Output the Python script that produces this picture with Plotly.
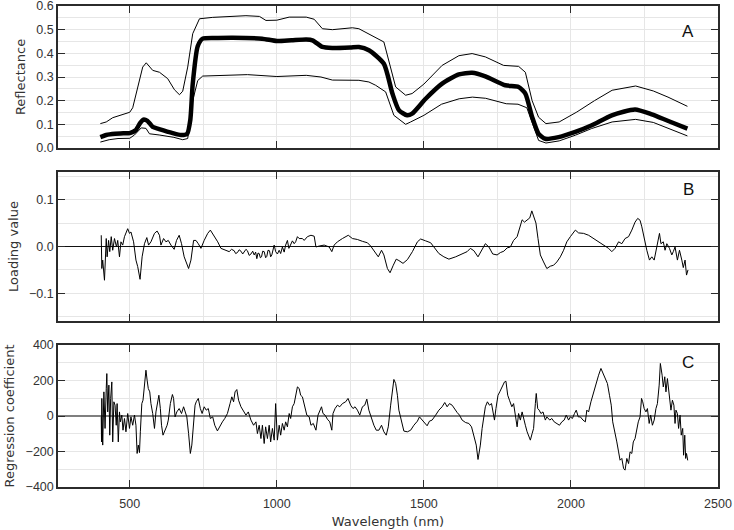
import plotly.graph_objects as go

# ---------------- Panel A: reflectance (mean, upper, lower) ----------------
wl_mean = [400, 420, 450, 480, 500, 520, 535, 546, 560, 578, 600, 646, 674, 695, 706, 714, 731,
           748, 800, 850, 950, 1000, 1050, 1100, 1121, 1155, 1189, 1250, 1279, 1313, 1364, 1393,
           1415, 1443, 1460, 1506, 1562, 1619, 1664, 1709, 1777, 1822, 1845, 1868, 1890, 1913,
           1958, 2015, 2071, 2139, 2218, 2275, 2331, 2396]
refl_mean = [0.046, 0.055, 0.060, 0.062, 0.063, 0.075, 0.105, 0.120, 0.115, 0.089, 0.080, 0.063,
             0.055, 0.060, 0.120, 0.270, 0.430, 0.462, 0.465, 0.466, 0.462, 0.452, 0.455, 0.458,
             0.455, 0.427, 0.423, 0.425, 0.427, 0.413, 0.356, 0.230, 0.160, 0.138, 0.145, 0.208,
             0.272, 0.311, 0.318, 0.303, 0.265, 0.258, 0.230, 0.131, 0.060, 0.039, 0.046, 0.068,
             0.096, 0.138, 0.163, 0.142, 0.114, 0.082]

wl_upper = [400, 420, 442, 480, 500, 510, 527, 544, 556, 578, 601, 629, 652, 669, 680, 697, 714,
            737, 782, 895, 941, 963, 1000, 1042, 1100, 1127, 1155, 1189, 1257, 1279, 1364, 1387,
            1404, 1438, 1460, 1500, 1562, 1619, 1664, 1709, 1771, 1822, 1845, 1868, 1890, 1915,
            1960, 2020, 2080, 2140, 2220, 2280, 2330, 2396]
refl_upper = [0.103, 0.110, 0.128, 0.143, 0.151, 0.170, 0.250, 0.342, 0.360, 0.328, 0.320, 0.293,
              0.246, 0.225, 0.240, 0.342, 0.483, 0.546, 0.552, 0.559, 0.556, 0.539, 0.540, 0.553,
              0.553, 0.544, 0.504, 0.500, 0.508, 0.504, 0.448, 0.342, 0.258, 0.223, 0.230, 0.270,
              0.349, 0.390, 0.399, 0.385, 0.349, 0.345, 0.320, 0.200, 0.130, 0.103, 0.110, 0.152,
              0.200, 0.244, 0.262, 0.241, 0.215, 0.176]

wl_lower = [400, 430, 460, 500, 516, 539, 555, 567, 600, 650, 680, 697, 714, 731, 748, 900, 1000,
            1100, 1150, 1189, 1279, 1313, 1336, 1370, 1398, 1438, 1455, 1500, 1560, 1620, 1665,
            1710, 1780, 1820, 1850, 1870, 1890, 1915, 1960, 2015, 2070, 2140, 2220, 2280, 2330,
            2396]
refl_lower = [0.025, 0.035, 0.040, 0.041, 0.055, 0.085, 0.083, 0.060, 0.055, 0.045, 0.035, 0.040,
              0.200, 0.285, 0.304, 0.310, 0.302, 0.307, 0.300, 0.287, 0.286, 0.279, 0.265, 0.237,
              0.138, 0.100, 0.110, 0.138, 0.185, 0.208, 0.215, 0.210, 0.187, 0.185, 0.170, 0.103,
              0.032, 0.021, 0.030, 0.054, 0.082, 0.110, 0.121, 0.108, 0.082, 0.051]

# ---------------- Panel B: loading values ----------------
wl_load = [403, 405, 408, 414, 420, 423, 428, 432, 437, 442, 448, 455, 459, 465, 470, 476, 482,
           493, 499, 504, 513, 521, 527, 535, 542, 550, 558, 564, 572, 584, 593, 601, 606, 615,
           623, 631, 640, 651, 659, 668, 676, 685, 700, 708, 717, 725, 733, 742, 753, 765, 774,
           785, 799, 810, 827, 838, 846, 855, 860, 866, 872, 878, 884, 889, 895, 900, 906, 912,
           918, 923, 928, 932, 936, 940, 944, 948, 952, 957, 962, 966, 970, 975, 979, 983, 987,
           991, 996, 1002, 1008, 1013, 1019, 1025, 1030, 1036, 1041, 1047, 1053, 1059, 1064, 1070,
           1076, 1087, 1093, 1104, 1116, 1127, 1133, 1144, 1161, 1178, 1187, 1195, 1206, 1223,
           1243, 1257, 1274, 1291, 1308, 1319, 1330, 1345, 1356, 1364, 1376, 1385, 1396, 1406,
           1415, 1429, 1444, 1461, 1478, 1489, 1506, 1523, 1534, 1551, 1568, 1585, 1608, 1630,
           1647, 1658, 1670, 1684, 1696, 1709, 1721, 1734, 1749, 1760, 1772, 1783, 1794, 1805,
           1817, 1826, 1834, 1842, 1851, 1860, 1867, 1875, 1881, 1888, 1896, 1907, 1918, 1930,
           1941, 1952, 1964, 1975, 1986, 1998, 2015, 2026, 2043, 2060, 2077, 2094, 2111, 2128,
           2139, 2150, 2162, 2173, 2184, 2196, 2207, 2218, 2227, 2235, 2241, 2249, 2258, 2267,
           2275, 2283, 2292, 2301, 2306, 2314, 2320, 2326, 2335, 2343, 2348, 2354, 2362, 2369,
           2377, 2382, 2388, 2393, 2398]
loading = [0.024, -0.047, -0.029, -0.072, 0.017, -0.022, 0.013, -0.011, 0.021, -0.008, 0.017,
           -0.001, 0.013, -0.022, 0.010, 0.003, 0.021, 0.038, 0.028, 0.031, 0.010, -0.029, -0.043,
           -0.070, -0.022, 0.006, 0.019, 0.003, 0.010, 0.028, 0.033, 0.024, 0.003, 0.017, 0.010,
           0.013, 0.003, -0.006, 0.013, 0.024, 0.006, -0.022, -0.047, -0.029, 0.013, 0.013, 0.006,
           -0.004, 0.013, 0.028, 0.035, 0.024, 0.010, -0.004, -0.008, -0.011, -0.006, -0.009,
           -0.015, -0.013, -0.007, -0.010, -0.016, -0.011, -0.006, -0.009, -0.019, -0.016, -0.010,
           -0.018, -0.012, -0.026, -0.014, -0.015, -0.024, -0.022, -0.010, -0.011, -0.024, -0.021,
           -0.008, -0.009, -0.022, -0.018, -0.006, 0.003, -0.011, -0.016, -0.008, -0.015, -0.001,
           -0.012, 0.003, 0.013, -0.004, 0.003, 0.012, 0.006, 0.010, 0.021, 0.017, 0.017, 0.013,
           0.021, 0.024, 0.022, -0.001, 0.001, 0.003, -0.001, -0.011, 0.003, 0.010, 0.017, 0.024,
           0.017, 0.015, 0.011, 0.008, 0.001, -0.008, -0.022, -0.008, -0.018, -0.047, -0.056,
           -0.040, -0.027, -0.030, -0.036, -0.028, -0.011, 0.010, 0.016, 0.012, 0.008, -0.001,
           -0.015, -0.022, -0.027, -0.022, -0.016, -0.011, -0.004, -0.009, -0.022, -0.009, 0.006,
           -0.001, -0.016, -0.018, -0.013, -0.010, -0.003, -0.001, 0.013, 0.021, 0.042, 0.057,
           0.052, 0.056, 0.061, 0.076, 0.063, 0.050, 0.017, -0.018, -0.033, -0.047, -0.042,
           -0.040, -0.033, -0.022, -0.008, 0.010, 0.021, 0.035, 0.029, 0.028, 0.024, 0.017, 0.010,
           0.003, -0.004, -0.011, -0.004, 0.010, 0.006, 0.017, 0.021, 0.035, 0.052, 0.060, 0.056,
           0.042, 0.017, -0.008, -0.029, -0.022, -0.029, 0.003, 0.028, 0.006, 0.010, -0.008,
           0.006, -0.004, -0.018, -0.011, -0.001, -0.029, -0.008, -0.029, -0.045, -0.029, -0.061,
           -0.050]

# ---------------- Panel C: regression coefficients ----------------
wl_coef = [403, 404, 405, 408, 412, 416, 420, 422, 425, 429, 432, 435, 439, 442, 446, 450, 454,
           457, 461, 465, 468, 473, 477, 482, 487, 493, 499, 504, 510, 516, 521, 525, 529, 533,
           536, 541, 545, 550, 555, 559, 563, 568, 572, 578, 584, 589, 595, 599, 604, 608, 613,
           620, 627, 631, 638, 645, 649, 654, 660, 668, 676, 683, 689, 694, 700, 706, 711, 717,
           722, 726, 733, 740, 746, 753, 760, 767, 774, 782, 789, 798, 808, 815, 823, 832, 841,
           847, 853, 858, 864, 870, 878, 887, 895, 903, 912, 921, 929, 934, 940, 946, 951, 957,
           962, 968, 974, 979, 985, 991, 996, 1002, 1008, 1013, 1019, 1025, 1030, 1036, 1042,
           1047, 1053, 1059, 1064, 1070, 1076, 1081, 1087, 1095, 1102, 1110, 1116, 1124, 1133,
           1140, 1146, 1152, 1157, 1164, 1172, 1180, 1187, 1191, 1198, 1206, 1214, 1223, 1234,
           1242, 1251, 1259, 1266, 1274, 1282, 1291, 1299, 1306, 1313, 1323, 1330, 1338, 1347,
           1356, 1364, 1372, 1379, 1387, 1393, 1398, 1404, 1410, 1415, 1424, 1432, 1444, 1455,
           1466, 1478, 1485, 1494, 1503, 1511, 1519, 1528, 1540, 1551, 1562, 1571, 1579, 1587,
           1596, 1605, 1613, 1621, 1630, 1642, 1653, 1662, 1670, 1678, 1684, 1692, 1698, 1705,
           1709, 1716, 1723, 1730, 1735, 1740, 1745, 1752, 1758, 1766, 1774, 1779, 1785, 1791,
           1799, 1805, 1811, 1817, 1822, 1828, 1834, 1839, 1845, 1851, 1856, 1862, 1868, 1873,
           1879, 1882, 1887, 1892, 1898, 1905, 1913, 1918, 1928, 1935, 1943, 1952, 1961, 1969,
           1977, 1984, 1992, 1998, 2005, 2012, 2018, 2025, 2032, 2041, 2049, 2054, 2060, 2068,
           2077, 2086, 2094, 2102, 2109, 2116, 2124, 2131, 2137, 2142, 2150, 2156, 2162, 2167,
           2173, 2179, 2184, 2190, 2196, 2201, 2207, 2212, 2218, 2224, 2229, 2235, 2240, 2244,
           2249, 2255, 2260, 2266, 2271, 2277, 2283, 2289, 2294, 2300, 2304, 2310, 2314, 2319,
           2323, 2328, 2333, 2337, 2340, 2345, 2350, 2354, 2357, 2362, 2366, 2371, 2375, 2380,
           2383, 2387, 2390, 2393, 2397]
coef = [-5, -146, 99, -164, 136, -70, 155, 239, 23, 174, -108, 99, 192, -146, 80, 61, -52, 70,
        -146, 23, -33, 5, -80, -14, -89, 14, -70, -5, -52, 5, -52, -211, -164, -206, -89, 70, 89,
        164, 258, 202, 155, 136, 70, 14, -70, 23, 99, 117, 42, -52, -108, -80, -52, -23, 70, 121,
        99, -5, 23, 42, 14, 52, 23, -5, -99, -211, -164, -14, 61, 80, 99, 42, 14, 52, 33, 42, -14,
        -5, -52, -84, -52, -33, -14, 14, 70, 108, 80, 136, 149, 89, 52, 23, 5, 23, -23, -52, -33,
        -99, -52, -127, -52, -155, -61, -127, -52, -146, -70, -136, 70, -136, -52, -108, -42, -80,
        -33, -61, 14, -14, 52, 70, 117, 164, 155, 117, 108, 61, 5, -5, -52, -42, -80, 5, 33, 52,
        14, 5, -18, -33, -80, 14, 42, 61, 52, 70, 80, 99, 61, 42, 52, 33, 5, 52, 61, 95, 33, -23,
        -52, -80, -80, -52, -89, -108, -61, 61, 164, 206, 183, 117, 33, -33, -85, -89, -80, -52,
        -29, -5, -23, -38, -55, -29, -23, 5, 33, 52, 76, 52, 70, 61, 38, 20, 5, -23, -37, -42,
        -61, -108, -164, -245, -164, -70, -5, 52, 80, 61, 70, 14, -23, 42, 117, 136, 164, 192,
        196, 117, 89, 52, 70, 5, -61, 14, -23, 23, -5, -52, -89, -117, -136, -99, -70, 70, 127,
        42, 33, 14, 23, -23, -5, -23, -14, -33, -42, -52, -33, -23, 5, -23, -5, -14, 14, 33, -5,
        -5, -23, -33, 33, 23, 80, 136, 192, 230, 268, 239, 211, 183, 117, 61, -33, -89, -146,
        -202, -249, -239, -296, -305, -239, -268, -202, -211, -146, -127, -70, -33, -5, 99, 80,
        42, 23, 42, -42, 5, -52, -23, 42, 70, 174, 296, 230, 164, 221, 136, 211, 136, 108, 33, 89,
        61, -42, 33, 14, -70, 5, -108, -70, -221, -108, -239, -211, -250]

panel_labels = ["A", "B", "C"]
y_titles = ["Reflectance", "Loading value", "Regression coefficient"]
x_title = "Wavelength (nm)"

TICK_FONT = dict(family="Liberation Sans, Arial, sans-serif", size=12.5, color="#333333")
TITLE_FONT = dict(family="DejaVu Sans, Verdana, sans-serif", size=13, color="#333333")
GRID = "#e6e6e6"
AXLINE = "#2b2b2b"

fig = go.Figure()
fig.add_trace(go.Scatter(x=wl_upper, y=refl_upper, mode="lines", line=dict(color="black", width=1),
                         xaxis="x", yaxis="y", showlegend=False))
fig.add_trace(go.Scatter(x=wl_lower, y=refl_lower, mode="lines", line=dict(color="black", width=1),
                         xaxis="x", yaxis="y", showlegend=False))
fig.add_trace(go.Scatter(x=wl_mean, y=refl_mean, mode="lines", line=dict(color="black", width=4.5, shape="spline", smoothing=0.6),
                         xaxis="x", yaxis="y", showlegend=False))
fig.add_trace(go.Scatter(x=wl_load, y=loading, mode="lines", line=dict(color="black", width=1),
                         xaxis="x2", yaxis="y2", showlegend=False))
fig.add_trace(go.Scatter(x=wl_coef, y=coef, mode="lines", line=dict(color="black", width=1),
                         xaxis="x3", yaxis="y3", showlegend=False))


def xaxis_cfg(anchor, labels):
    return dict(anchor=anchor, range=[256, 2500], dtick=500, tick0=0, automargin=False,
                showgrid=True, gridcolor=GRID, gridwidth=1,
                minor=dict(dtick=250, tick0=0, showgrid=True, gridcolor=GRID, ticks=""),
                showline=True, linecolor=AXLINE, linewidth=1.5, mirror="ticks",
                ticks="inside", ticklen=7, tickcolor=AXLINE, tickwidth=1.2,
                ticklabelstandoff=4, ticklabeloverflow="allow",
                showticklabels=labels, tickfont=TICK_FONT, zeroline=False)


def yaxis_cfg(anchor, domain, rng, dtick, minor_dtick, fmt, title, zl, zlcolor, zlwidth):
    return dict(anchor=anchor, domain=domain, range=rng, dtick=dtick, tick0=0, automargin=False,
                tickformat=fmt, showgrid=True, gridcolor=GRID, gridwidth=1,
                minor=dict(dtick=minor_dtick, tick0=0, showgrid=True, gridcolor=GRID, ticks=""),
                showline=True, linecolor=AXLINE, linewidth=1.5, mirror="ticks",
                ticks="inside", ticklen=7, tickcolor=AXLINE, tickwidth=1.2,
                ticklabeloverflow="allow",
                tickfont=TICK_FONT, zeroline=zl, zerolinecolor=zlcolor, zerolinewidth=zlwidth,
                title=dict(text=title, font=TITLE_FONT, standoff=8))


fig.update_layout(
    width=734, height=530,
    margin=dict(l=58, r=16, t=6, b=43),
    paper_bgcolor="white", plot_bgcolor="white",
    xaxis=xaxis_cfg("y", False),
    xaxis2=dict(xaxis_cfg("y2", False), matches="x"),
    xaxis3=dict(xaxis_cfg("y3", True), matches="x",
                title=dict(text=x_title, font=TITLE_FONT, standoff=7)),
    yaxis=yaxis_cfg("x", [0.7048, 1.0], [0, 0.6], 0.1, 0.05, ".1f", y_titles[0], False, "black", 1),
    yaxis2=yaxis_cfg("x2", [0.3451, 0.6549], [-0.159, 0.159], 0.1, 0.05, ".1f", y_titles[1], True, "#111111", 1.2),
    yaxis3=yaxis_cfg("x3", [0.0, 0.2952], [-400, 400], 200, 100, "d", y_titles[2], True, "#7f7f7f", 2),
)

label_pos = [("x domain", "y domain", 0.817), ("x2 domain", "y2 domain", 0.88), ("x3 domain", "y3 domain", 0.88)]
for lab, (xr, yr, yy) in zip(panel_labels, label_pos):
    fig.add_annotation(text=lab, xref=xr, yref=yr, x=0.955, y=yy, showarrow=False,
                       font=dict(family="Liberation Sans, Arial, sans-serif", size=17, color="#111111"),
                       xanchor="center", yanchor="middle")

fig.write_html("out.html", config={"displayModeBar": False},
               post_script="document.body.style.margin='0';document.body.style.overflow='hidden';")
